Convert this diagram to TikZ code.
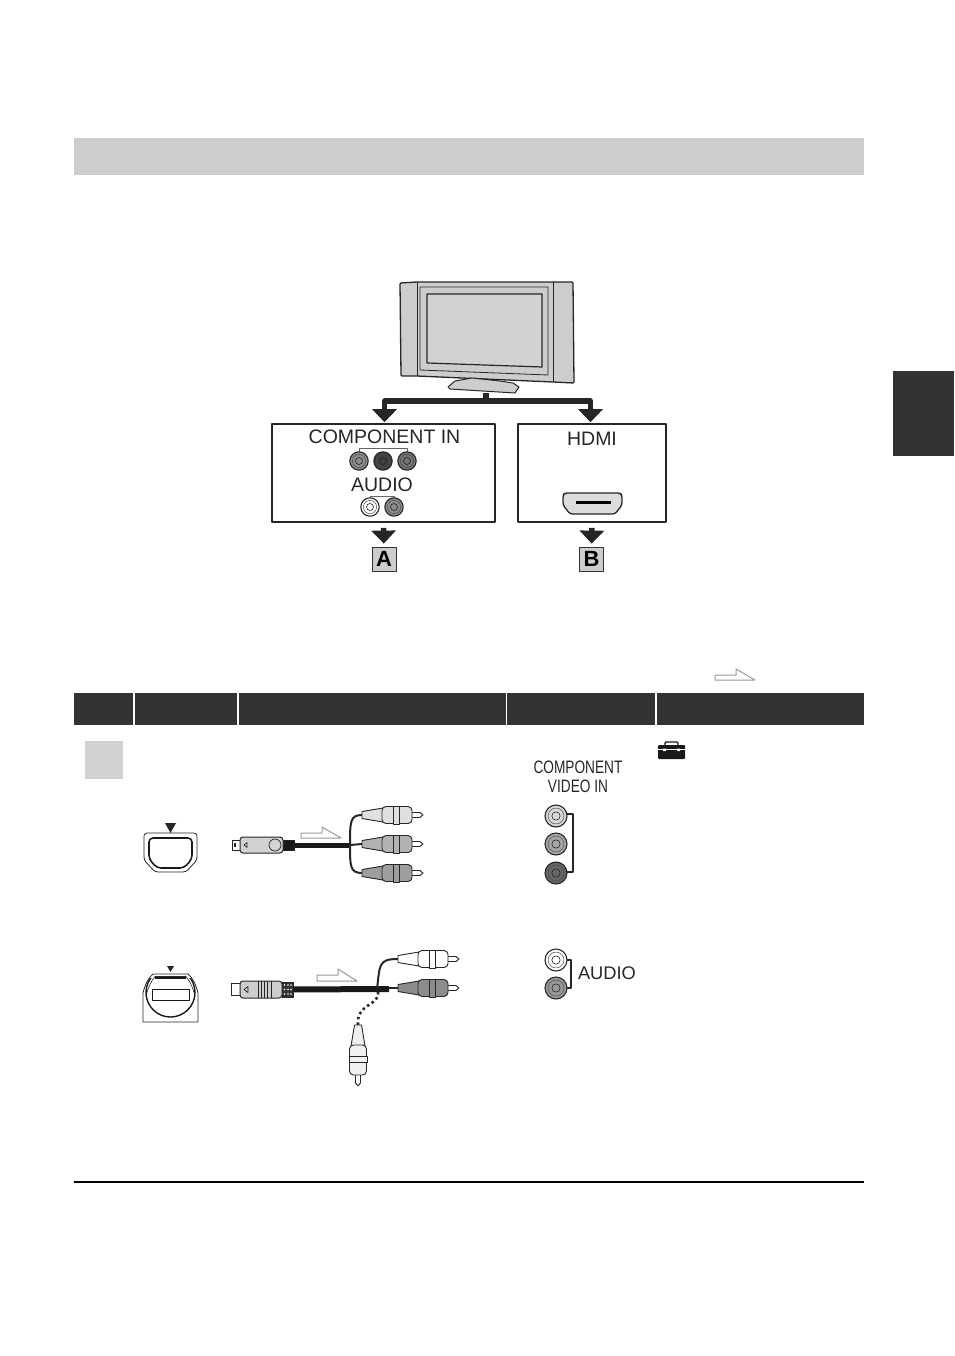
\documentclass[tikz,border=0pt]{standalone}
\usepackage{fontspec}
\setmainfont{Liberation Sans}
\usetikzlibrary{arrows.meta,calc}
\definecolor{dark}{HTML}{333333}
\definecolor{band}{HTML}{CDCDCD}
\definecolor{panel}{HTML}{D1D2D4}
\tikzstyle{plate} = [rectangle, inner sep=0pt, fill=band]
\tikzstyle{portbox} = [rectangle, draw=black!85, line width=1.6pt, inner sep=0pt, minimum height=98pt]
\tikzstyle{letterbox} = [rectangle, draw=black!80, line width=.8pt, fill=band, inner sep=0pt,
    minimum width=24pt, minimum height=24pt, font=\fontsize{22}{24}\selectfont\bfseries]
\tikzstyle{caption} = [inner sep=0pt, text=black!85, font=\fontsize{19.5}{22}\selectfont]
\tikzstyle{bigarrow} = [line width=5.4pt, draw=black!85, -{Triangle[width=24pt,length=13pt]}]
\tikzstyle{hollow} = [draw=black!40, line width=1pt, fill=white]
\tikzstyle{bracket} = [draw=black!85, line width=1.1pt]
\tikzstyle{cable} = [draw=black!90, line width=5pt]
\tikzstyle{wire} = [draw=black!85, line width=2pt]
% jack: name, position, radius, colour
\newcommand{\jack}[4]{
  \node[circle, draw=black!85, line width=1.1pt, fill=#4, inner sep=0pt, minimum size=2*#3 pt] (#1) at (#2) {};
  \draw[black!70, line width=.5pt] (#1) circle ({.72*#3});
  \draw[black!85, line width=.6pt] (#1) circle ({.38*#3});
}
% plug: position, rotation, colour
\newcommand{\rcaplug}[3]{
  \begin{scope}[shift={(#1)}, rotate=#2, draw=black!85, line width=.9pt]
    \draw[fill=white] (48,-2.5) -- (58,-2.5) to[out=0,in=-90] (61,0) to[out=90,in=0] (58,2.5) -- (48,2.5) -- cycle;
    \draw[fill=#3] (0,-3.5) -- (21,-7) -- (21,7) -- (0,3.5) -- cycle;
    \draw[fill=#3, rounded corners=4pt] (20,-8.5) rectangle (50,8.5);
    \draw[fill=#3, line width=.5pt] (31,-9) rectangle (37,9);
  \end{scope}
}
\begin{document}
\begin{tikzpicture}[x=1pt,y=-1pt,line join=round]
  \useasboundingbox (0,0) rectangle (954,1356);

  % page furniture
  \node[plate, minimum width=790pt, minimum height=37pt] (topband) at (469,156.5) {};
  \node[plate, fill=dark, minimum width=61pt, minimum height=85pt] (sidetab) at (923.5,413.5) {};
  \draw[black, line width=1.6pt] (74,1182) -- (864,1182);

  % television
  \draw[black!85, line width=1.3pt, fill=band, rounded corners=1pt] (400,283) -- (417,282) -- (553,282) -- (573,282) -- (574,383) -- (553,382) -- (417,376) -- (401,376) -- cycle;
  \draw[black!85, line width=1pt] (417,282) -- (417,376) (553,282) -- (553,382);
  \draw[black!85, line width=.8pt] (420,287) -- (548,287) -- (548,375) -- (420,370) -- cycle;
  \draw[black!85, line width=1.2pt, fill=band!90!white] (427,294) -- (542,294) -- (542,367) -- (427,363) -- cycle;
  \draw[black!85, line width=1pt, fill=band] (472,378) -- (455,381) -- (448,387) -- (450,389) -- (515,393) -- (519,387) -- (513,383) -- (500,381) -- cycle;
  \coordinate (tvfoot) at (486,393);
  \coordinate (tvjoin) at (486,401);

  % input boxes
  \node[portbox, minimum width=223pt] (compbox) at (383.5,473) {};
  \node[portbox, minimum width=148pt] (hdmibox) at (592,473) {};
  \node[letterbox] (boxA) at (384,559) {A};
  \node[letterbox] (boxB) at (591.5,559) {B};

  \draw[black!85, line width=5.4pt] (tvfoot) -- (tvjoin);
  \draw[bigarrow, shorten >=1pt] (tvjoin) -| ($(compbox.north)+(1,0)$);
  \draw[bigarrow, shorten >=1pt] (tvjoin) -| ($(hdmibox.north)+(-1.5,0)$);
  \draw[bigarrow, shorten <=5pt, shorten >=3pt] (compbox.south) -- (boxA);
  \draw[bigarrow, shorten <=5pt, shorten >=3pt] (hdmibox.south) -- (boxB);

  \node[caption] (compin) at (384.5,437) {COMPONENT IN};
  \node[caption] (audioin) at (382,485) {AUDIO};
  \node[caption] (hdmiin) at (592,439) {HDMI};

  \draw[black!60, line width=.5pt] (359,452) -- (359,448) -- (407,448) -- (407,452);
  \draw[black!60, line width=.5pt] (370,498) -- (370,496) -- (394,496) -- (394,498);
  \jack{compY}{359,461}{9.2}{black!45}
  \jack{compB}{383,461}{9.2}{black!75}
  \jack{compR}{407,461}{9.2}{black!55}
  \jack{audioL}{370,507}{9.2}{white}
  \jack{audioR}{394,507}{9.2}{black!45}

  % hdmi socket
  \draw[black!85, line width=1.3pt, fill=band!70!white, rounded corners=2.5pt] (563,495) -- (565,493) -- (620,493) -- (622,495) -- (622,505) -- (615,514) -- (570,514) -- (563,505) -- cycle;
  \draw[black, line width=3pt] (576,502) -- (611,502);

  % table head
  \foreach \xa/\xb in {74/133,135/237,239/505.5,507/655,657/864}
    \fill[dark] (\xa,693) rectangle (\xb,725);
  \draw[hollow] (715,675) -- (736,675) -- (736,669) -- (755,680) -- (715,680) -- cycle;

  \node[plate, fill=panel, minimum width=38pt, minimum height=38pt] (rowmark) at (104,760) {};

  % tool box icon
  \draw[black!90, line width=1.4pt, rounded corners=1pt] (665,745) -- (665,742) -- (678,742) -- (678,745);
  \fill[black!90, rounded corners=1pt] (658,745) rectangle (685,759);
  \draw[white, line width=.8pt] (658,749.5) -- (685,749.5);
  \fill[white] (663,748.5) rectangle (666,751) (677,748.5) rectangle (680,751);

  % socket, component side
  \fill[black!85] (165,823) -- (176,823) -- (170.5,833) -- cycle;
  \draw[black!85, line width=.8pt, rounded corners=3pt] (144,833) -- (197,833) -- (197,860) -- (186,872) -- (155,872) -- (144,860) -- cycle;
  \draw[black!90, line width=1.6pt, rounded corners=4pt] (149,838) -- (192,838) -- (192,859) -- (184,868) -- (157,868) -- (149,859) -- cycle;

  % component cable
  \coordinate (splitA) at (350,845);
  \coordinate (plugTop) at (362,815);
  \coordinate (plugMid) at (362,844);
  \coordinate (plugLow) at (362,873);
  \node[rectangle, draw=black!85, line width=1pt, fill=black!90, minimum width=11pt, minimum height=10pt, inner sep=0pt] (collarA) at (288.5,845) {};
  \draw[black!85, line width=1pt, fill=white] (232,840) rectangle (240,850);
  \fill[black!85] (233.5,843) rectangle (236,847);
  \draw[black!85, line width=1pt, fill=band!90!white, rounded corners=3pt] (240,837) rectangle (283,853);
  \draw[black!85, line width=.7pt] (275,845) circle (6);
  \draw[black!85, line width=.6pt] (247,842.5) -- (247,847.5) -- (244,845) -- cycle;
  \draw[cable] (collarA) -- (splitA);
  \draw[wire] (splitA) .. controls (350,822) and (350,815) .. (plugTop);
  \draw[wire] (splitA) -- (plugMid);
  \draw[wire] (splitA) .. controls (350,866) and (350,873) .. (plugLow);
  \rcaplug{plugTop}{0}{black!12}
  \rcaplug{plugMid}{0}{black!30}
  \rcaplug{plugLow}{0}{black!38}
  \draw[hollow] (301,833) -- (322,833) -- (322,827) -- (341,838) -- (301,838) -- cycle;

  % socket, audio side
  \fill[black!85] (167,966) -- (174,966) -- (170.5,972) -- cycle;
  \draw[black!85, line width=.8pt] (143,1022) -- (143,993) .. controls (145,985) and (148,978) .. (153,974) -- (188,974) .. controls (193,978) and (196,985) .. (198,993) -- (198,1022) -- cycle;
  \draw[black!85, line width=.6pt] (146,996) .. controls (148,988) and (151,981) .. (155,976.5) -- (186,976.5) .. controls (190,981) and (193,988) .. (195,996);
  \begin{scope}
    \clip (140,978) rectangle (200,1024);
    \draw[black!90, line width=1.4pt] (170.5,992.5) circle (24.5);
  \end{scope}
  \draw[black!90, line width=1.4pt] (155,978) -- (186,978);
  \node[rectangle, draw=black!90, line width=.9pt, minimum width=37pt, minimum height=11pt, inner sep=0pt] (audioslot) at (170.5,994.5) {};

  % audio cable
  \coordinate (splitB) at (377,989);
  \coordinate (plugUp) at (398,959);
  \coordinate (plugDown) at (398,988);
  \coordinate (plugDrop) at (358,1025);
  \node[rectangle, draw=black!85, line width=.8pt, fill=black!80, minimum width=11pt, minimum height=15pt, inner sep=0pt] (collarB) at (287.5,989.5) {};
  \foreach \xc in {284.5,288,291}
    \foreach \yc in {985,989.5,994}
      \fill[white] (\xc,\yc) circle (.8);
  \draw[black!85, line width=1pt, fill=white] (231,983) rectangle (240,995);
  \draw[black!85, line width=1pt, fill=band, rounded corners=3pt] (240,981) -- (282,981) -- (282,998) -- (240,998) -- cycle;
  \foreach \xb in {258,261,264,267,271}
    \draw[black!85, line width=.8pt] (\xb,981) -- (\xb,998);
  \draw[black!85, line width=.7pt] (248,986.5) -- (244,989.5) -- (248,992.5) -- cycle;
  \draw[cable, line width=6pt] (collarB) -- (389,989);
  \draw[wire] (389,988) -- (plugDown);
  \draw[wire] (splitB) .. controls (380,965) and (378,959) .. (plugUp);
  \draw[draw=black!85, line width=2.6pt, dash pattern=on 2.5pt off 3pt] (378,992) .. controls (380,1006) and (356,1003) .. (plugDrop);
  \rcaplug{plugUp}{0}{white}
  \rcaplug{plugDown}{0}{black!45}
  \rcaplug{plugDrop}{-90}{black!6}
  \draw[hollow] (317,975) -- (338,975) -- (338,969) -- (357,981) -- (317,981) -- cycle;

  % recorder side jacks
  \node[inner sep=0pt, text=black!85, align=center, font=\fontsize{18}{19}\selectfont] (videolabel) at (578,776.5) {\scalebox{.76}[1]{COMPONENT}\\\scalebox{.76}[1]{VIDEO IN}};
  \coordinate (brkTop) at (573,814);
  \coordinate (brkLow) at (573,872);
  \draw[bracket] (567,814) -- (brkTop) -- (brkLow) -- (567,872);
  \jack{sockY}{556,816}{11}{black!15}
  \jack{sockB}{556,844}{11}{black!35}
  \jack{sockR}{556,873}{11}{black!60}
  \coordinate (brkUp) at (571,960);
  \coordinate (brkDown) at (571,988);
  \draw[bracket] (567,960) -- (brkUp) -- (brkDown) -- (567,988);
  \jack{sockL}{556,960}{11}{white}
  \jack{sockA}{556,988}{11}{black!40}
  \node[inner sep=0pt, text=black!85, font=\fontsize{18.3}{20}\selectfont] (audiolabel) at (607,973) {AUDIO};
\end{tikzpicture}
\end{document}
